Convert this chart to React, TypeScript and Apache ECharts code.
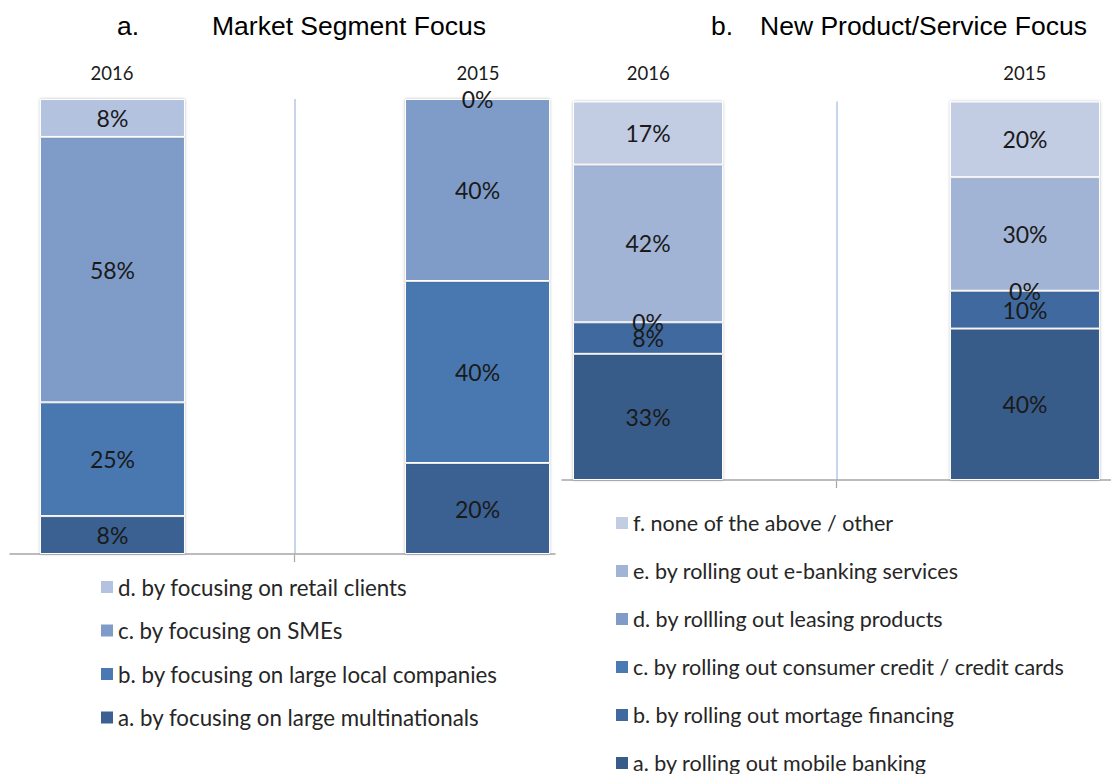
import React, { useEffect, useRef } from "react";
import * as echarts from "echarts";

// ---- data ----
const years = ["2016", "2015"];

const marketNames = [
  "a. by focusing on large multinationals",
  "b. by focusing on large local companies",
  "c. by focusing on SMEs",
  "d. by focusing on retail clients",
];
const marketA = [8.33, 20];
const marketB = [25, 40];
const marketC = [58.33, 40];
const marketD = [8.33, 0];
const marketValues = [marketA, marketB, marketC, marketD];

const productNames = [
  "a. by rolling out mobile banking",
  "b. by rolling out mortage financing",
  "c. by rolling out consumer credit / credit cards",
  "d. by rollling out leasing products",
  "e. by rolling out e-banking services",
  "f. none of the above / other",
];
const productA = [33.33, 40];
const productB = [8.33, 10];
const productC = [0, 0];
const productD: (number | null)[] = [null, null];
const productE = [41.67, 30];
const productF = [16.67, 20];
const productValues = [productA, productB, productC, productD, productE, productF];

// ---- styles ----
const marketColors = ["#3B6192", "#4A78B0", "#7F9CC8", "#B3C3DF"];
const productColors = ["#385B89", "#406A9F", "#4A7AB3", "#7F9BC8", "#A2B4D5", "#C2CCE2"];
const FONT = "Lato";
const TITLE_FONT = "Liberation Sans";

// Each year gets its own stack: 2016 sits in the left slot of its category,
// 2015 in the right slot of its category (as in the original layout).
function makeSeries(
  names: string[],
  values: (number | null)[][],
  colors: string[],
  axisIndex: number,
  barWidth: number,
  barGap: string
) {
  const out: any[] = [];
  years.forEach((_, yi) => {
    names.forEach((name, i) => {
      out.push({
        type: "bar",
        name,
        stack: "s" + axisIndex + "_" + yi,
        xAxisIndex: axisIndex,
        yAxisIndex: axisIndex,
        barWidth,
        barGap,
        data: years.map((__, ci) => {
          const v = values[i][ci];
          return ci === yi && v !== null ? v : "-";
        }),
        itemStyle: {
          color: colors[i],
          borderColor: "#ffffff",
          borderWidth: 1,
          shadowColor: "rgba(0,0,0,0.28)",
          shadowBlur: 3,
        },
        label: {
          show: true,
          position: "inside",
          formatter: (p: any) => Math.round(p.value) + "%",
          color: "#1a1a1a",
          fontFamily: FONT,
          fontSize: 23,
        },
        emphasis: { disabled: true },
      });
    });
  });
  return out;
}

export default function App() {
  const ref = useRef<HTMLDivElement>(null);
  useEffect(() => {
    if (!ref.current) return;
    const chart = echarts.init(ref.current, undefined, { renderer: "svg" });

    const grid = (left: number, right: number, top: number, bottom: number) => ({ left, right, top, bottom, containLabel: false });

    const hiddenY = (gridIndex: number) => ({
      type: "value",
      gridIndex,
      min: 0,
      max: 100,
      show: false,
    });

    // year labels sit over the bars, which are in the outer slots of each category
    const barX = (gridIndex: number, shift: number, margin: number) => ({
      type: "category",
      gridIndex,
      data: years,
      position: "top",
      axisLine: { show: false },
      axisTick: { show: false },
      axisLabel: {
        margin,
        formatter: (v: string, i: number) => (i === 0 ? "{l|" + v + "}" : "{r|" + v + "}"),
        rich: {
          l: { color: "#1a1a1a", fontFamily: FONT, fontSize: 18.5, padding: [0, shift * 2, 0, 0] },
          r: { color: "#1a1a1a", fontFamily: FONT, fontSize: 18.5, padding: [0, 0, 0, shift * 2] },
        },
      },
      splitLine: {
        show: true,
        showMinLine: false,
        showMaxLine: false,
        lineStyle: { color: "#B4C7E7", width: 1.5 },
      },
    });

    const baseX = (gridIndex: number) => ({
      type: "category",
      gridIndex,
      data: years,
      position: "bottom",
      axisLine: { show: true, lineStyle: { color: "#A6A6A6", width: 1.5 } },
      axisTick: { show: false },
      axisLabel: { show: false },
      splitLine: { show: false },
    });

    const legendCommon = {
      orient: "vertical",
      icon: "rect",
      itemWidth: 12,
      itemHeight: 12,
      padding: 0,
      height: 300,
      itemStyle: { shadowBlur: 0, borderWidth: 0 },
      selectedMode: false,
    };

    const titleStyle = { fontFamily: TITLE_FONT, fontSize: 26.5, fontWeight: "normal", color: "#000000" };

    chart.setOption({
      animation: false,
      backgroundColor: "#ffffff",
      title: [
        { text: "a.", left: 117, top: 12, padding: 0, textStyle: titleStyle },
        { text: "Market Segment Focus", left: 212, top: 12, padding: 0, textStyle: titleStyle },
        { text: "b.", left: 711, top: 12, padding: 0, textStyle: titleStyle },
        { text: "New Product/Service Focus", left: 760, top: 12, padding: 0, textStyle: titleStyle },
      ],
      grid: [
        grid(10, 531, 99, 220), // left bars
        grid(10, 556, 99, 220), // left base axis
        grid(562, 0, 101.5, 294), // right bars
        grid(562, 0, 101.5, 294), // right base axis
      ],
      xAxis: [barX(0, 40.5, 17), baseX(1), barX(2, 51, 19), baseX(3)],
      yAxis: [hiddenY(0), hiddenY(1), hiddenY(2), hiddenY(3)],
      legend: [
        {
          ...legendCommon,
          left: 101,
          top: 576,
          itemGap: 21.5,
          textStyle: { color: "#262626", fontFamily: FONT, fontSize: 22.3, lineHeight: 22 },
          data: [...marketNames].reverse(),
        },
        {
          ...legendCommon,
          left: 616,
          top: 512,
          itemGap: 26,
          textStyle: { color: "#262626", fontFamily: FONT, fontSize: 21.5, lineHeight: 22 },
          data: [...productNames].reverse(),
        },
      ],
      graphic: [
        { type: "line", shape: { x1: 294.5, y1: 555, x2: 294.5, y2: 562 }, style: { stroke: "#A6A6A6", lineWidth: 1.2 } },
        { type: "line", shape: { x1: 836.5, y1: 481, x2: 836.5, y2: 488 }, style: { stroke: "#A6A6A6", lineWidth: 1.2 } },
      ],
      series: [
        ...makeSeries(marketNames, marketValues, marketColors, 0, 145, "-44.8%"),
        ...makeSeries(productNames, productValues, productColors, 2, 150, "-31.7%"),
      ],
    });

    return () => chart.dispose();
  }, []);

  return <div ref={ref} style={{ width: 1111, height: 774, position: "absolute", left: 0, top: 0 }} />;
}
